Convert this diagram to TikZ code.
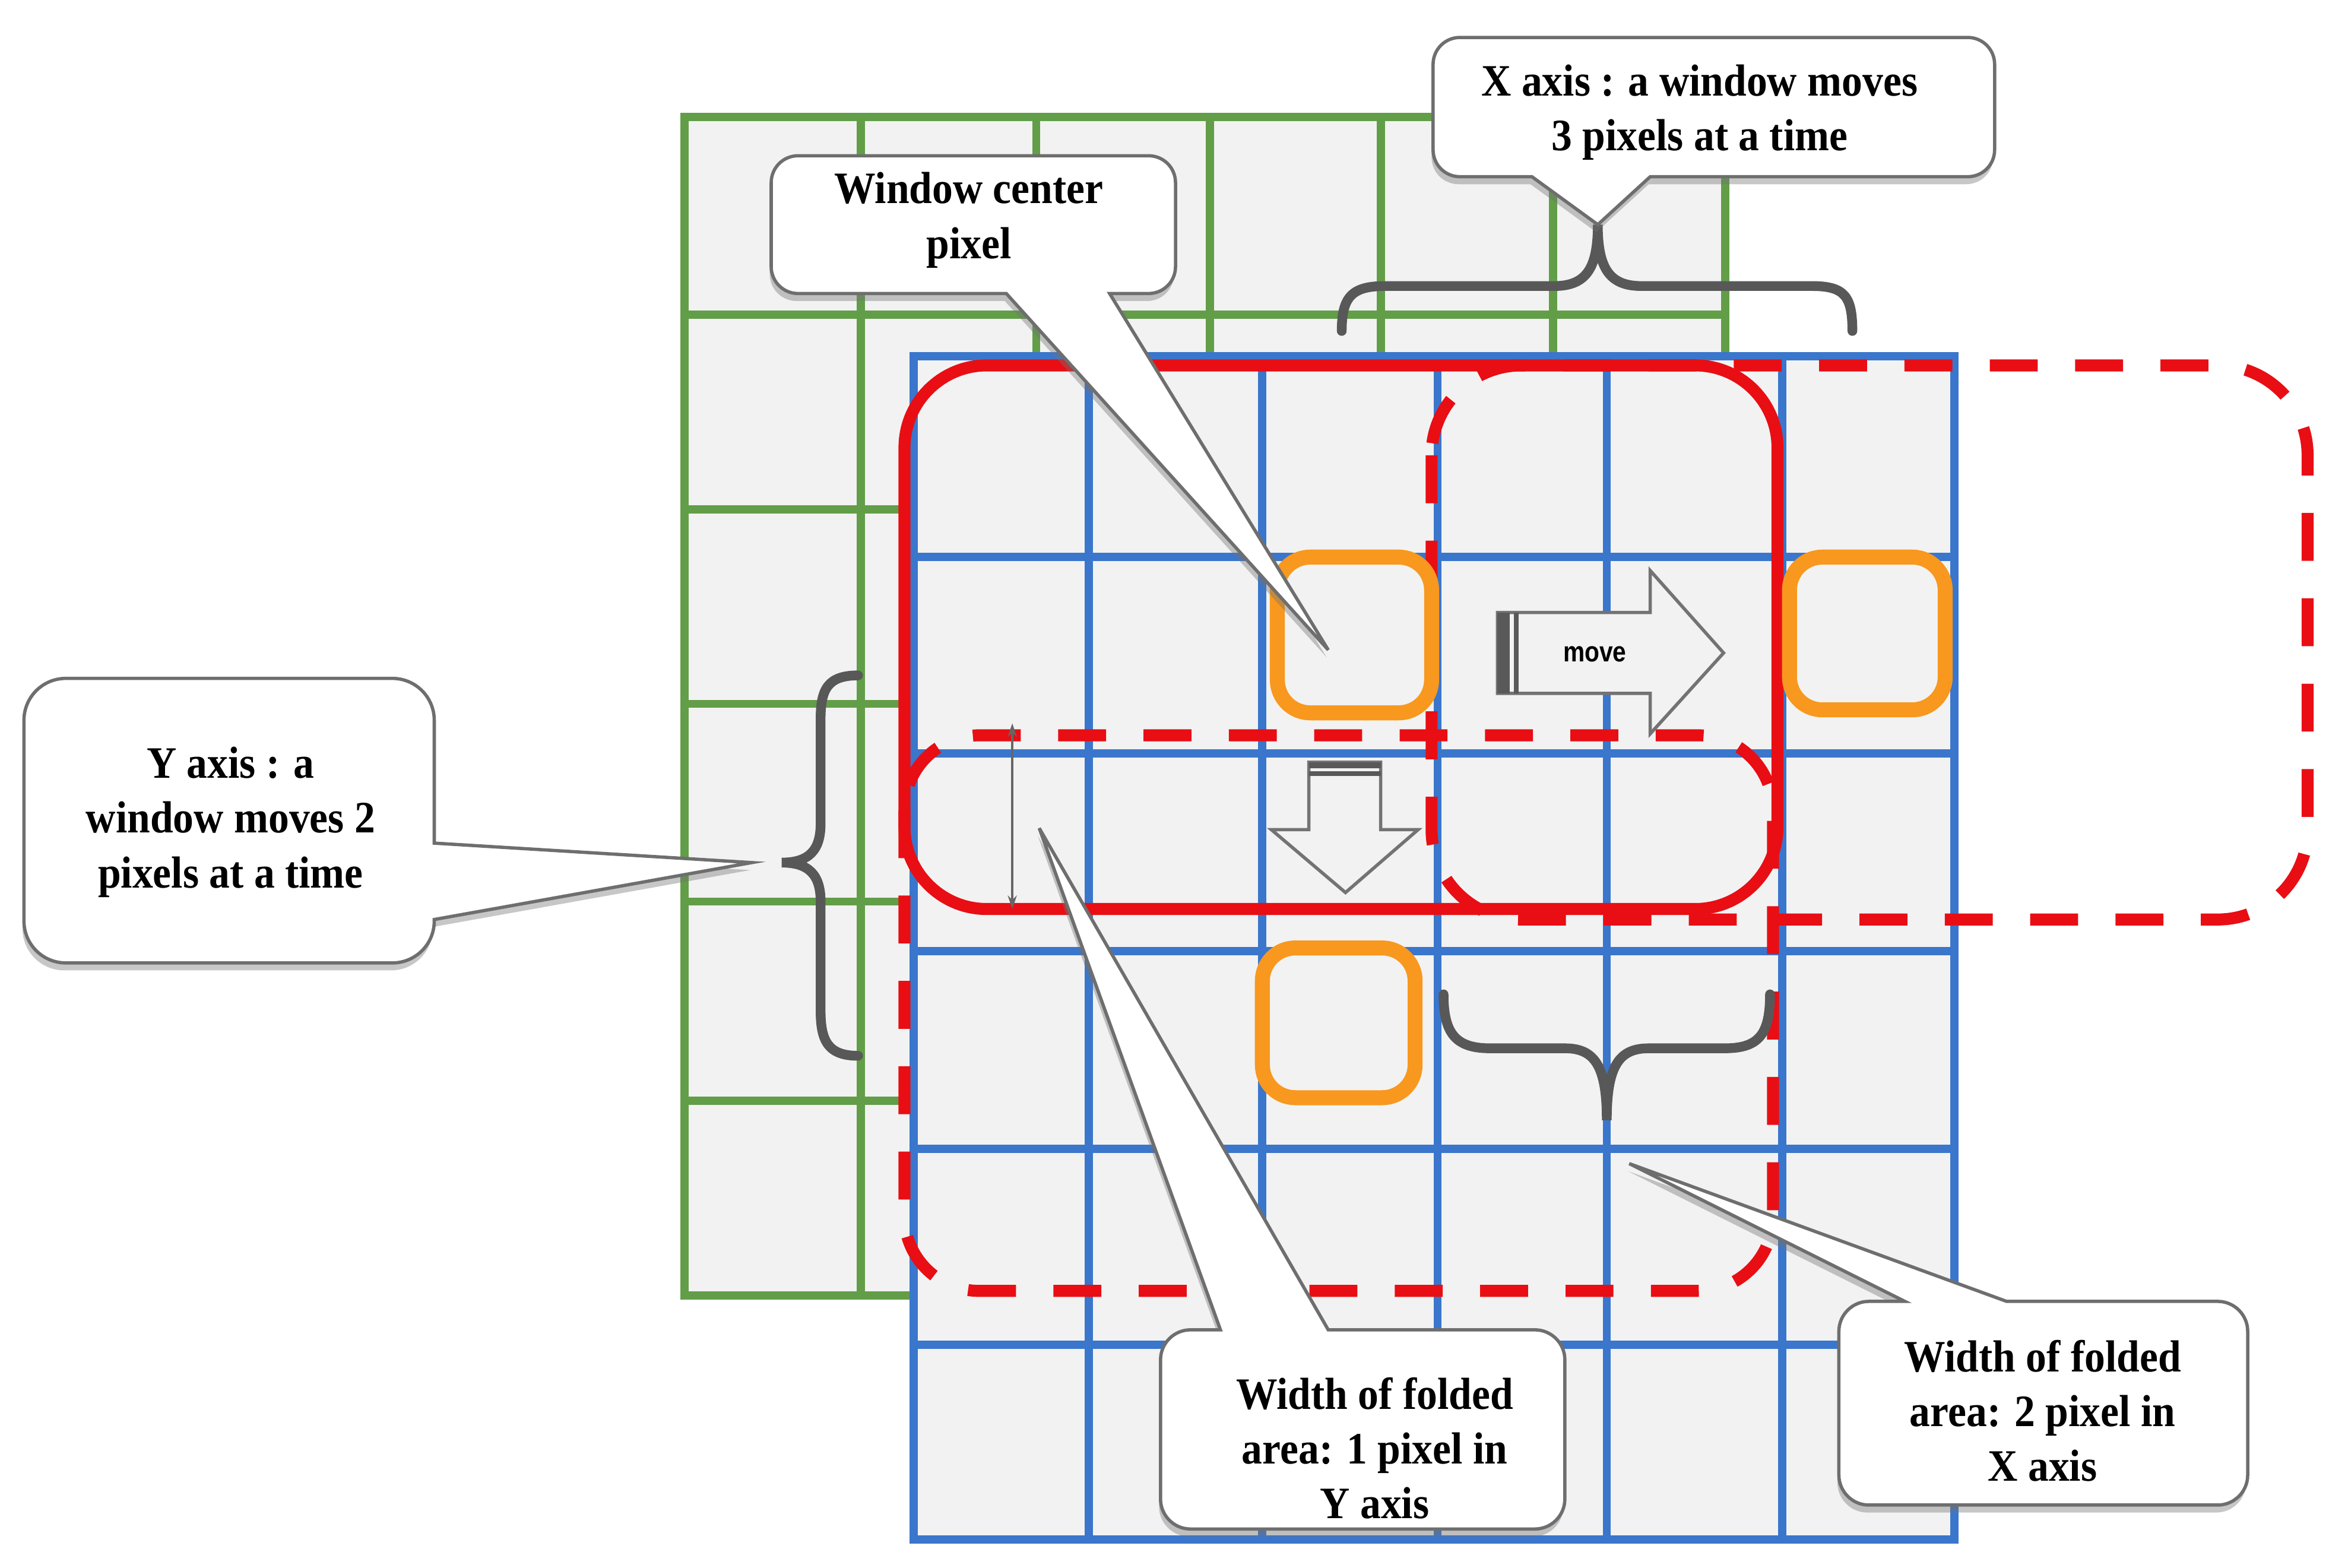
\documentclass[tikz,border=0pt]{standalone}
\usepackage{fontspec}
\setmainfont{Liberation Serif}[FakeStretch=0.92]
\newfontfamily\movefont{Liberation Sans}[FakeStretch=0.85]
\usetikzlibrary{shadows,arrows.meta}
\definecolor{gridgreen}{RGB}{98,158,72}
\definecolor{gridblue}{RGB}{58,118,204}
\definecolor{winred}{RGB}{232,14,20}
\definecolor{winorange}{RGB}{248,152,30}
\definecolor{bracegray}{RGB}{88,88,88}
\definecolor{cellfill}{RGB}{242,242,242}
\definecolor{calloutline}{RGB}{110,110,110}
\tikzset{
  greenline/.style={draw=gridgreen,line width=5.5pt,line cap=rect},
  blueline/.style={draw=gridblue,line width=5.5pt,line cap=rect},
  redsolid/.style={draw=winred,line width=8pt},
  reddash/.style={draw=winred,line width=8pt,dash pattern=on 32pt off 25pt},
  orangebox/.style={draw=winorange,line width=10pt,rounded corners=22pt},
  bracestroke/.style={draw=bracegray,line width=6.5pt,line cap=round},
  calloutshape/.style={fill=white,draw=calloutline,line width=2.2pt,line join=miter,
     drop shadow={shadow xshift=-1pt,shadow yshift=-5pt,opacity=.4,fill=black!55}},
  callouttext/.style={align=center,font=\bfseries\fontsize{30}{36.5}\selectfont,inner sep=0pt},
  bigarrow/.style={draw=black!55,line width=2.2pt,fill=black!5,line join=miter},
  stripe/.style={fill=black!65}
}
\begin{document}
\begin{tikzpicture}[x=1pt,y=-1pt]
\useasboundingbox (0,0) rectangle (1568,1047);
% green (previous) grid
\fill[cellfill] (457,78) rectangle (1152,865);
\foreach \gx in {457,575,692,808,922,1037,1152} \draw[greenline] (\gx,78) -- (\gx,865);
\foreach \gy in {78,210,340,470,602,735,865} \draw[greenline] (457,\gy) -- (1152,\gy);
% blue (current) grid
\fill[cellfill] (610,238) rectangle (1305,1028);
\foreach \bx in {610,727,843,960,1073,1190,1305} \draw[blueline] (\bx,238) -- (\bx,1028);
\foreach \by in {238,372,503,635,767,898,1028} \draw[blueline] (610,\by) -- (1305,\by);
% windows
\draw[redsolid,rounded corners=55pt] (604,244) rectangle (1187,607);
\draw[reddash,rounded corners=60pt] (956,244) rectangle (1541,614);
\draw[reddash,rounded corners=50pt] (604,491) rectangle (1184,862);
% centre pixels
\draw[orangebox] (853,372) rectangle (956,476);
\draw[orangebox] (1195,372) rectangle (1299,474);
\draw[orangebox] (843,633) rectangle (945,733);
% move arrow (right)
\draw[bigarrow] (1000,409) -- (1102,409) -- (1102,381) -- (1151,436) -- (1102,490) -- (1102,463) -- (1000,463) -- cycle;
\fill[stripe] (1000,409) rectangle (1008,463);
\fill[stripe] (1011,409) rectangle (1014,463);
\node[font=\movefont\bfseries\fontsize{19}{19}\selectfont,inner sep=0pt] (mv) at (1065,437) {move};
% down arrow
\draw[bigarrow] (874,509) -- (922,509) -- (922,554) -- (947,554) -- (898.5,596) -- (849,554) -- (874,554) -- cycle;
\fill[stripe] (874,509) rectangle (922,513);
\fill[stripe] (874,515) rectangle (922,518);
% thin double arrow (fold height)
\coordinate (fa) at (676,483);
\coordinate (fb) at (676,607);
\draw[{Stealth[length=9pt,width=6pt]}-{Stealth[length=9pt,width=6pt]},draw=black!60,line width=1.5pt] (fa) -- (fb);
% braces
\draw[bracestroke] (896,221) .. controls (896,198) and (903,191) .. (925,191) -- (1038,191) .. controls (1060,191) and (1067,178) .. (1067,150) .. controls (1067,178) and (1074,191) .. (1096,191) -- (1210,191) .. controls (1232,191) and (1237,198) .. (1237,221);
\draw[bracestroke] (573,451) .. controls (553,451) and (548,460) .. (548,480) -- (548,550) .. controls (548,568) and (540,576) .. (522,576) .. controls (540,576) and (548,584) .. (548,602) -- (548,675) .. controls (548,695) and (553,705) .. (573,705);
\draw[bracestroke] (964,664) .. controls (964,690) and (972,700) .. (995,700) -- (1045,700) .. controls (1065,700) and (1073,712) .. (1073,748) .. controls (1073,712) and (1081,700) .. (1101,700) -- (1152,700) .. controls (1175,700) and (1182,690) .. (1182,664);
% callout 1: window center pixel
\path[calloutshape] (533,104) -- (767,104) .. controls (777,104) and (785,112) .. (785,122) -- (785,178) .. controls (785,188) and (777,196) .. (767,196) -- (741,196) -- (887,434) -- (672,196) -- (533,196) .. controls (523,196) and (515,188) .. (515,178) -- (515,122) .. controls (515,112) and (523,104) .. (533,104) -- cycle;
\node[callouttext] (t1) at (647,147) {Window center\\pixel};
% callout 2: X axis
\path[calloutshape] (975,25) -- (1314,25) .. controls (1324,25) and (1332,33) .. (1332,43) -- (1332,100) .. controls (1332,110) and (1324,118) .. (1314,118) -- (1102,118) -- (1067,150) -- (1023,118) -- (975,118) .. controls (965,118) and (957,110) .. (957,100) -- (957,43) .. controls (957,33) and (965,25) .. (975,25) -- cycle;
\node[callouttext] (t2) at (1135,75) {X axis : a window moves\\3 pixels at a time};
% callout 3: Y axis
\path[calloutshape] (44,453) -- (262,453) .. controls (277.5,453) and (290,465.5) .. (290,481) -- (290,563) -- (502,576) -- (290,614) -- (290,615) .. controls (290,630.5) and (277.5,643) .. (262,643) -- (44,643) .. controls (28.5,643) and (16,630.5) .. (16,615) -- (16,481) .. controls (16,465.5) and (28.5,453) .. (44,453) -- cycle;
\node[callouttext] (t3) at (154,549) {Y axis : a\\window moves 2\\pixels at a time};
% callout 4: folded area Y
\path[calloutshape] (795,888) -- (815,888) -- (694,553) -- (887,888) -- (1025,888) .. controls (1036,888) and (1045,897) .. (1045,908) -- (1045,1001) .. controls (1045,1012) and (1036,1021) .. (1025,1021) -- (795,1021) .. controls (784,1021) and (775,1012) .. (775,1001) -- (775,908) .. controls (775,897) and (784,888) .. (795,888) -- cycle;
\node[callouttext] (t4) at (918,967) {Width of folded\\area: 1 pixel in\\Y axis};
% callout 5: folded area X
\path[calloutshape] (1248,869) -- (1272,869) -- (1088,777) -- (1340,869) -- (1481,869) .. controls (1492,869) and (1501,878) .. (1501,889) -- (1501,985) .. controls (1501,996) and (1492,1005) .. (1481,1005) -- (1248,1005) .. controls (1237,1005) and (1228,996) .. (1228,985) -- (1228,889) .. controls (1228,878) and (1237,869) .. (1248,869) -- cycle;
\node[callouttext] (t5) at (1364,942) {Width of folded\\area: 2 pixel in\\X axis};
\end{tikzpicture}
\end{document}
